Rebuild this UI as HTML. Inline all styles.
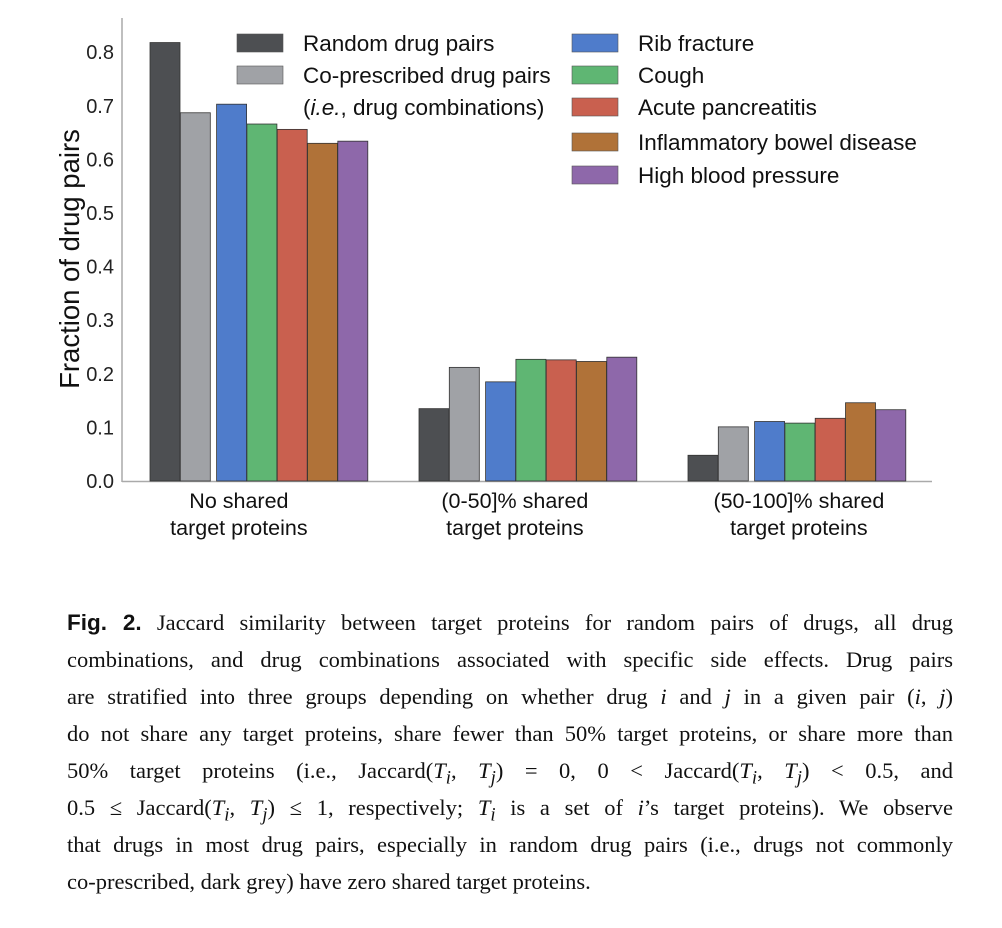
<!DOCTYPE html>
<html><head><meta charset="utf-8">
<style>
body{margin:0;background:#fff;width:1002px;height:928px;overflow:hidden;position:relative}
svg{position:absolute;left:0;top:0}
.cap{position:absolute;left:67px;top:604px;width:886px;font-family:"Liberation Serif",serif;font-size:22.5px;color:#111}
.ln{height:37px;line-height:37px;text-align:justify;text-align-last:justify;white-space:nowrap}
.ln.last{text-align-last:left}
.ln b{font-family:"Liberation Sans",sans-serif}
i{font-style:italic}
</style></head><body>
<svg id="chart" width="1002" height="600" font-family="Liberation Sans, sans-serif"></svg>
<div class="cap">
<div class="ln"><b>Fig. 2.</b> Jaccard similarity between target proteins for random pairs of drugs, all drug</div>
<div class="ln">combinations, and drug combinations associated with specific side effects. Drug pairs</div>
<div class="ln">are stratified into three groups depending on whether drug <i>i</i> and <i>j</i> in a given pair (<i>i</i>, <i>j</i>)</div>
<div class="ln">do not share any target proteins, share fewer than 50% target proteins, or share more than</div>
<div class="ln">50% target proteins (i.e., Jaccard(<i>T<sub>i</sub></i>, <i>T<sub>j</sub></i>) = 0, 0 &lt; Jaccard(<i>T<sub>i</sub></i>, <i>T<sub>j</sub></i>) &lt; 0.5, and</div>
<div class="ln">0.5 ≤ Jaccard(<i>T<sub>i</sub></i>, <i>T<sub>j</sub></i>) ≤ 1, respectively; <i>T<sub>i</sub></i> is a set of <i>i</i>’s target proteins). We observe</div>
<div class="ln">that drugs in most drug pairs, especially in random drug pairs (i.e., drugs not commonly</div>
<div class="ln last">co-prescribed, dark grey) have zero shared target proteins.</div>
</div>
<script>
const categories=[["No shared","target proteins"],["(0-50]% shared","target proteins"],["(50-100]% shared","target proteins"]];
const seriesNames=["Random drug pairs","Co-prescribed drug pairs","Rib fracture","Cough","Acute pancreatitis","Inflammatory bowel disease","High blood pressure"];
const randomPairs=[0.818,0.135,0.048];
const coPrescribed=[0.687,0.212,0.101];
const ribFracture=[0.703,0.185,0.111];
const cough=[0.666,0.227,0.108];
const acutePancreatitis=[0.656,0.226,0.117];
const ibd=[0.630,0.223,0.146];
const highBP=[0.634,0.231,0.133];
const yTicks=[0.0,0.1,0.2,0.3,0.4,0.5,0.6,0.7,0.8];
const series=[randomPairs,coPrescribed,ribFracture,cough,acutePancreatitis,ibd,highBP];
const colors=["#4d4f52","#a0a2a6","#4f7ccb","#5fb673","#c9604f","#b07238","#8e68aa"];
const NS="http://www.w3.org/2000/svg";
const svg=document.getElementById('chart');
const y0=481, pxPer=536;
const yS=v=>y0-v*pxPer;
const groupX=i=>150+i*269;
const barX=(g,s)=>groupX(g)+s*30.3+(s>=2?6:0);
const labelShift=[-20,-13,2];
function mk(t,a){const e=document.createElementNS(NS,t);for(const k in a)e.setAttribute(k,a[k]);svg.appendChild(e);return e;}
let ax=mk('line',{x1:122,y1:18,x2:122,y2:482,stroke:'#aaa','stroke-width':1.5});


let bx=mk('line',{x1:122,y1:481.5,x2:932,y2:481.5,stroke:'#aaa','stroke-width':1.5});


yTicks.forEach(v=>{
  const t=mk('text',{x:114,y:yS(v)+7,'text-anchor':'end','font-size':20,fill:'#222'});
  t.textContent=v.toFixed(1);
  
  
});
const yl=mk('text',{x:0,y:0,transform:'translate(79,259) rotate(-90)','text-anchor':'middle','font-size':27.5,fill:'#111'});
yl.textContent='Fraction of drug pairs';


series.forEach((vals,s)=>{
  vals.forEach((v,g)=>{
    const r=mk('rect',{x:barX(g,s),y:yS(v),width:30,height:y0-yS(v),fill:colors[s],stroke:'#333','stroke-width':0.8});
    
    
  });
});
categories.forEach((c,g)=>{
  const cx=groupX(g)+(barX(g,6)+30-groupX(g))/2+labelShift[g];
  c.forEach((l,k)=>{
    const t=mk('text',{x:cx,y:508+k*27,'text-anchor':'middle','font-size':21.5,fill:'#111'});
    t.textContent=l;
    
    
  });
});
const legPos=[[237,43],[237,75],[572,43],[572,75],[572,107],[572,142],[572,175]];
seriesNames.forEach((n,s)=>{
  const [lx,ly]=legPos[s];
  const r=mk('rect',{x:lx,y:ly-9,width:46,height:18,fill:colors[s],stroke:'#555','stroke-width':0.6});
  
  
  const t=mk('text',{x:lx+66,y:ly+8,'font-size':22.5,fill:'#111'});
  t.textContent=n;
  
  
});
const t2=mk('text',{x:303,y:115,'font-size':22.5,fill:'#111'});
t2.innerHTML='(<tspan font-style="italic">i.e.</tspan>, drug combinations)';


</script>
</body></html>
